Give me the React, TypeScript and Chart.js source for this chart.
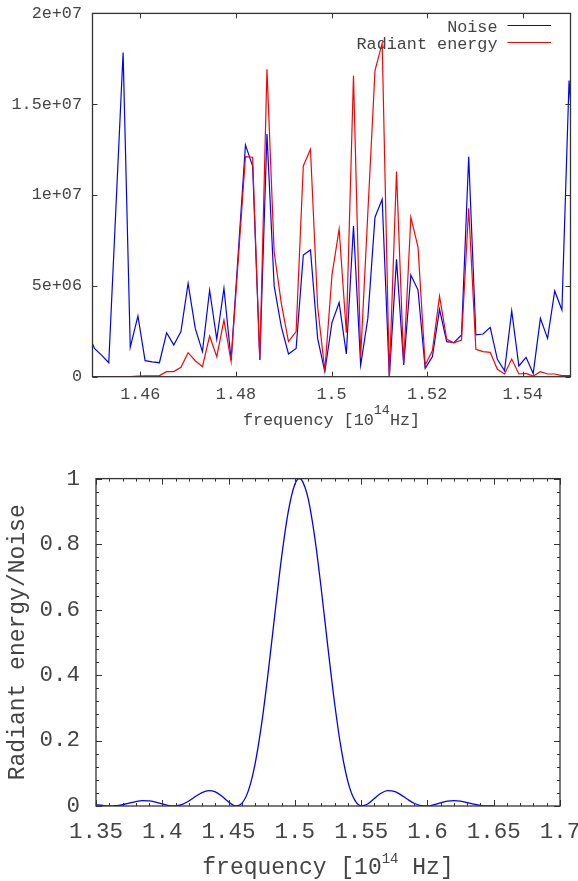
import React, { useEffect, useRef } from 'react';
import { Chart, registerables } from 'chart.js';
Chart.register(...registerables);

const FONT = '"Liberation Mono", "Courier New", monospace';
const TEXT = '#444';
const FRAME = '#333';

// ---------- Top chart: spectra ----------
const spectrumFreq = [
  1.4489, 1.4504, 1.4519, 1.4534, 1.4549, 1.4564, 1.4579, 1.4595, 1.4610, 1.4625,
  1.4640, 1.4655, 1.4670, 1.4685, 1.4700, 1.4715, 1.4730, 1.4745, 1.4760, 1.4775,
  1.4790, 1.4805, 1.4820, 1.4835, 1.4850, 1.4865, 1.4880, 1.4895, 1.4910, 1.4926,
  1.4941, 1.4956, 1.4971, 1.4986, 1.5001, 1.5016, 1.5031, 1.5046, 1.5061, 1.5076,
  1.5091, 1.5106, 1.5121, 1.5136, 1.5151, 1.5166, 1.5181, 1.5196, 1.5211, 1.5226,
  1.5241, 1.5256, 1.5272, 1.5287, 1.5302, 1.5317, 1.5332, 1.5347, 1.5362, 1.5377,
  1.5392, 1.5407, 1.5422, 1.5437, 1.5452, 1.5467, 1.5482, 1.5497, 1.5512,
];
const noiseValues = [
  2.5e6, 1.56e6, 1.19e6, 0.77e6, 9.3e6, 17.84e6, 1.62e6, 3.34e6, 0.88e6, 0.82e6,
  0.77e6, 2.42e6, 1.75e6, 2.48e6, 5.14e6, 2.66e6, 1.38e6, 4.76e6, 2.06e6, 4.87e6,
  0.92e6, 6.84e6, 12.76e6, 11.6e6, 0.92e6, 13.36e6, 5.0e6, 2.75e6, 1.25e6, 1.56e6,
  6.7e6, 6.98e6, 2.11e6, 0.28e6, 2.98e6, 4.08e6, 1.25e6, 8.3e6, 0.64e6, 3.21e6,
  8.78e6, 9.77e6, 0.0, 6.46e6, 0.64e6, 5.6e6, 4.77e6, 0.46e6, 1.1e6, 3.71e6,
  1.93e6, 1.87e6, 2.3e6, 12.11e6, 2.3e6, 2.35e6, 2.72e6, 0.96e6, 0.33e6, 3.62e6,
  0.59e6, 1.07e6, 0.18e6, 3.21e6, 2.11e6, 4.72e6, 3.67e6, 16.3e6, 10.5e6,
];
const radiantValues = [
  0, 0.01e6, 0.01e6, 0.01e6, 0.01e6, 0.01e6, 0.01e6, 0.03e6, 0.04e6, 0.04e6,
  0.06e6, 0.28e6, 0.28e6, 0.52e6, 1.32e6, 0.88e6, 0.55e6, 2.24e6, 1.1e6, 3.12e6,
  0.83e6, 6.47e6, 12.11e6, 12.08e6, 0.92e6, 16.93e6, 6.88e6, 4.04e6, 1.93e6, 2.48e6,
  11.6e6, 12.52e6, 3.85e6, 0.33e6, 5.6e6, 8.12e6, 2.42e6, 16.56e6, 1.1e6, 9.0e6,
  16.85e6, 18.36e6, 0, 11.29e6, 0.74e6, 8.78e6, 7.13e6, 0.64e6, 1.43e6, 4.44e6,
  2.06e6, 1.87e6, 2.02e6, 9.27e6, 1.51e6, 1.38e6, 1.34e6, 0.41e6, 0.15e6, 0.97e6,
  0.15e6, 0.18e6, 0.04e6, 0.28e6, 0.15e6, 0.15e6, 0.06e6, 0.06e6, 0.05e6,
];
const spectrumSeriesNames = ['Noise', 'Radiant energy'];
const spectrumXTicks = [1.46, 1.48, 1.5, 1.52, 1.54];
const spectrumXTickLabels = ['1.46', '1.48', '1.5', '1.52', '1.54'];
const spectrumYTicks = [0, 5e6, 1e7, 1.5e7, 2e7];
const spectrumYTickLabels = ['0', '5e+06', '1e+07', '1.5e+07', '2e+07'];

// ---------- Bottom chart: ratio ----------
const ratioFreq = [
  1.350, 1.355, 1.360, 1.365, 1.370, 1.375, 1.380, 1.385, 1.390, 1.395,
  1.400, 1.405, 1.410, 1.415, 1.420, 1.425, 1.430, 1.435, 1.440, 1.445,
  1.450, 1.455, 1.460, 1.465, 1.470, 1.475, 1.480, 1.485, 1.490, 1.495,
  1.500, 1.5035, 1.505, 1.510, 1.515, 1.520, 1.525, 1.530, 1.535, 1.540,
  1.545, 1.550, 1.555, 1.560, 1.565, 1.570, 1.575, 1.580, 1.585, 1.590,
  1.595, 1.600, 1.605, 1.610, 1.615, 1.620, 1.625, 1.630, 1.635, 1.640,
  1.645, 1.650,
];
const ratioValues = [
  0.0045, 0.0017, 0.0001, 0.0007, 0.0038, 0.0086, 0.0134, 0.0162, 0.0158, 0.0120,
  0.0063, 0.0014, 0.0002, 0.0048, 0.0151, 0.0288, 0.0411, 0.0471, 0.0433, 0.0300,
  0.0123, 0.0005, 0.0079, 0.0476, 0.1286, 0.2529, 0.4121, 0.5892, 0.7603, 0.8987,
  0.9829, 1.0, 0.9967, 0.9396, 0.8205, 0.6598, 0.4821, 0.3131, 0.1734, 0.0746,
  0.0193, 0.0004, 0.0062, 0.0229, 0.0389, 0.0468, 0.0445, 0.0341, 0.0204, 0.0083,
  0.0013, 0.0003, 0.0041, 0.0098, 0.0147, 0.0165, 0.0148, 0.0106, 0.0056, 0.0017,
  0.0000, 0.0008,
];
const ratioXTicks = [1.35, 1.4, 1.45, 1.5, 1.55, 1.6, 1.65, 1.7];
const ratioXTickLabels = ['1.35', '1.4', '1.45', '1.5', '1.55', '1.6', '1.65', '1.7'];
const ratioYTicks = [0, 0.2, 0.4, 0.6, 0.8, 1];
const ratioYTickLabels = ['0', '0.2', '0.4', '0.6', '0.8', '1'];
const ratioYTitle = 'Radiant energy/Noise';

type Part = { text: string; sup?: boolean };

function framePlugin(opts: {
  xMajor: number[]; yMajor: number[]; xMinorStep?: number; yMinorStep?: number;
  majorLen: number; minorLen: number;
}) {
  return {
    id: 'frameTicks',
    afterDatasetsDraw(chart: any) {
      const { ctx, chartArea: a, scales } = chart;
      const x = scales.x, y = scales.y;
      ctx.save();
      ctx.strokeStyle = FRAME;
      ctx.lineWidth = 1;
      ctx.beginPath();
      const vTick = (px: number, len: number) => {
        ctx.moveTo(px, a.bottom); ctx.lineTo(px, a.bottom - len);
        ctx.moveTo(px, a.top); ctx.lineTo(px, a.top + len);
      };
      const hTick = (py: number, len: number) => {
        ctx.moveTo(a.left, py); ctx.lineTo(a.left + len, py);
        ctx.moveTo(a.right, py); ctx.lineTo(a.right - len, py);
      };
      if (opts.xMinorStep) {
        const n = Math.round((x.max - x.min) / opts.xMinorStep);
        for (let i = 0; i <= n; i++) vTick(Math.round(x.getPixelForValue(x.min + i * opts.xMinorStep)) + 0.5, opts.minorLen);
      }
      if (opts.yMinorStep) {
        const n = Math.round((y.max - y.min) / opts.yMinorStep);
        for (let i = 0; i <= n; i++) hTick(Math.round(y.getPixelForValue(y.min + i * opts.yMinorStep)) + 0.5, opts.minorLen);
      }
      opts.xMajor.forEach((v) => vTick(Math.round(x.getPixelForValue(v)) + 0.5, opts.majorLen));
      opts.yMajor.forEach((v) => hTick(Math.round(y.getPixelForValue(v)) + 0.5, opts.majorLen));
      ctx.stroke();
      ctx.lineWidth = 1.3;
      ctx.strokeRect(a.left, a.top, a.right - a.left, a.bottom - a.top);
      ctx.restore();
    },
  };
}

function supTitlePlugin(parts: Part[], size: number, supSize: number, rise: number, below: number) {
  return {
    id: 'supTitle',
    afterDraw(chart: any) {
      const { ctx, chartArea: a } = chart;
      ctx.save();
      ctx.fillStyle = TEXT;
      ctx.textBaseline = 'alphabetic';
      ctx.textAlign = 'left';
      const fontOf = (p: Part) => `${p.sup ? supSize : size}px ${FONT}`;
      let total = 0;
      const widths = parts.map((p) => { ctx.font = fontOf(p); const w = ctx.measureText(p.text).width; total += w; return w; });
      let cx = (a.left + a.right) / 2 - total / 2;
      const base = a.bottom + below;
      parts.forEach((p, i) => {
        ctx.font = fontOf(p);
        ctx.fillText(p.text, cx, p.sup ? base - rise : base);
        cx += widths[i];
      });
      ctx.restore();
    },
  };
}

const legendPlugin = {
  id: 'cornerLegend',
  afterDraw(chart: any) {
    const { ctx } = chart;
    ctx.save();
    ctx.font = `16.8px ${FONT}`;
    ctx.fillStyle = TEXT;
    ctx.textAlign = 'right';
    ctx.textBaseline = 'alphabetic';
    const rows = [
      { name: spectrumSeriesNames[0], color: '#0000ff', base: 31.5, line: 25.5 },
      { name: spectrumSeriesNames[1], color: '#ff0000', base: 48.5, line: 42.5 },
    ];
    rows.forEach((r) => {
      ctx.fillText(r.name, 497.5, r.base);
      ctx.strokeStyle = r.color;
      ctx.lineWidth = 1.2;
      ctx.beginPath();
      ctx.moveTo(507.5, r.line);
      ctx.lineTo(551, r.line);
      ctx.stroke();
    });
    ctx.restore();
  },
};

function SpectrumChart() {
  const ref = useRef<HTMLCanvasElement>(null);
  useEffect(() => {
    const size = 16.8;
    const chart = new Chart(ref.current as HTMLCanvasElement, {
      type: 'line',
      data: {
        datasets: [
          {
            label: spectrumSeriesNames[0],
            data: spectrumFreq.map((f, i) => ({ x: f, y: noiseValues[i] })),
            borderColor: '#0000ff', borderWidth: 1.2, pointRadius: 0, tension: 0, fill: false, order: 1,
          },
          {
            label: spectrumSeriesNames[1],
            data: spectrumFreq.map((f, i) => ({ x: f, y: radiantValues[i] })),
            borderColor: '#ff0000', borderWidth: 1.2, pointRadius: 0, tension: 0, fill: false, order: 0,
          },
        ],
      },
      options: {
        animation: false,
        responsive: false,
        devicePixelRatio: 1,
        layout: { padding: { top: 13.4, right: 7.5, left: 0, bottom: 0 } },
        plugins: { legend: { display: false }, tooltip: { enabled: false } },
        scales: {
          x: {
            type: 'linear', min: 1.45, max: 1.55,
            afterBuildTicks: (s: any) => { s.ticks = spectrumXTicks.map((v) => ({ value: v })); },
            ticks: {
              callback: (_v: any, i: number) => spectrumXTickLabels[i],
              font: { family: FONT, size }, color: TEXT, padding: 8, maxRotation: 0, autoSkip: false,
            },
            grid: { display: false, drawTicks: false, tickLength: 0 },
            border: { display: false },
            afterFit: (s: any) => { s.height = 68.3; s.paddingLeft = 0; s.paddingRight = 0; },
          },
          y: {
            type: 'linear', min: 0, max: 2e7,
            afterBuildTicks: (s: any) => { s.ticks = spectrumYTicks.map((v) => ({ value: v })); },
            ticks: {
              callback: (_v: any, i: number) => spectrumYTickLabels[i],
              font: { family: FONT, size }, color: TEXT, padding: 10.5, autoSkip: false,
            },
            grid: { display: false, drawTicks: false, tickLength: 0 },
            border: { display: false },
            afterFit: (s: any) => { s.width = 92.5; s.paddingTop = 0; s.paddingBottom = 0; },
          },
        },
      } as any,
      plugins: [
        framePlugin({ xMajor: spectrumXTicks, yMajor: spectrumYTicks, majorLen: 5, minorLen: 0 }),
        supTitlePlugin([{ text: 'frequency [10' }, { text: '14', sup: true }, { text: 'Hz]' }], size, 13.4, 11, 48.3),
        legendPlugin,
      ],
    });
    return () => chart.destroy();
  }, []);
  return <canvas ref={ref} width={578} height={445} style={{ position: 'absolute', left: 0, top: 0 }} />;
}

function RatioChart() {
  const ref = useRef<HTMLCanvasElement>(null);
  useEffect(() => {
    const size = 22.5;
    const chart = new Chart(ref.current as HTMLCanvasElement, {
      type: 'line',
      data: {
        datasets: [
          {
            label: ratioYTitle,
            data: ratioFreq.map((f, i) => ({ x: f, y: ratioValues[i] })),
            borderColor: '#0000ff', borderWidth: 1.3, pointRadius: 0,
            cubicInterpolationMode: 'monotone', fill: false,
          },
        ],
      },
      options: {
        animation: false,
        responsive: false,
        devicePixelRatio: 1,
        layout: { padding: { top: 33.6, right: 18, left: 0, bottom: 0 } },
        plugins: { legend: { display: false }, tooltip: { enabled: false } },
        scales: {
          x: {
            type: 'linear', min: 1.35, max: 1.7,
            afterBuildTicks: (s: any) => { s.ticks = ratioXTicks.map((v) => ({ value: v })); },
            ticks: {
              callback: (_v: any, i: number) => ratioXTickLabels[i],
              font: { family: FONT, size }, color: TEXT, padding: 12.5, maxRotation: 0, autoSkip: false,
            },
            grid: { display: false, drawTicks: false, tickLength: 0 },
            border: { display: false },
            afterFit: (s: any) => { s.height = 75; s.paddingLeft = 0; s.paddingRight = 0; },
          },
          y: {
            type: 'linear', min: 0, max: 1,
            afterBuildTicks: (s: any) => { s.ticks = ratioYTicks.map((v) => ({ value: v })); },
            ticks: {
              callback: (_v: any, i: number) => ratioYTickLabels[i],
              font: { family: FONT, size }, color: TEXT, padding: 16, autoSkip: false,
            },
            title: {
              display: true, text: ratioYTitle, color: TEXT,
              font: { family: FONT, size: 23 }, padding: { top: 4, bottom: 0 },
            },
            grid: { display: false, drawTicks: false, tickLength: 0 },
            border: { display: false },
            afterFit: (s: any) => { s.width = 96; s.paddingTop = 0; s.paddingBottom = 0; },
          },
        },
      } as any,
      plugins: [
        framePlugin({ xMajor: ratioXTicks, yMajor: ratioYTicks, xMinorStep: 0.01, yMinorStep: 0.04, majorLen: 6, minorLen: 3 }),
        supTitlePlugin([{ text: 'frequency [10' }, { text: '14', sup: true }, { text: ' Hz]' }], 23, 14, 11, 68),
      ],
    });
    return () => chart.destroy();
  }, []);
  return <canvas ref={ref} width={578} height={436} style={{ position: 'absolute', left: 0, top: 445 }} />;
}

export default function App() {
  return (
    <div style={{ position: 'absolute', left: 0, top: 0, width: 578, height: 881, background: '#fff', overflow: 'hidden' }}>
      <SpectrumChart />
      <RatioChart />
    </div>
  );
}
